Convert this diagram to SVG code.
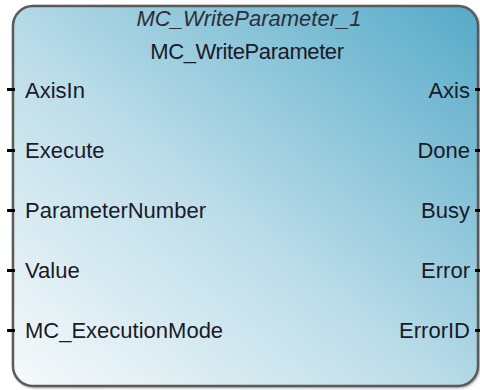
<svg xmlns="http://www.w3.org/2000/svg" width="480" height="390" viewBox="0 0 480 390">
<defs>
<linearGradient id="bg" x1="0" y1="1" x2="1" y2="0">
<stop offset="0" stop-color="#f7fafb"/>
<stop offset="0.45" stop-color="#bcdde9"/>
<stop offset="1" stop-color="#55aac8"/>
</linearGradient>
<filter id="sh" x="-5%" y="-5%" width="110%" height="110%">
<feDropShadow dx="1" dy="1" stdDeviation="1" flood-color="#000" flood-opacity="0.35"/>
</filter>
<style>
text{font-family:"Liberation Sans",Arial,sans-serif;font-size:22px;fill:#1a1a28}
.r{text-anchor:end}
.t{text-anchor:middle;font-style:italic;fill:#2e2e38}
.c{text-anchor:middle;letter-spacing:-0.4px}
.pin{fill:#000}
</style>
</defs>
<rect width="480" height="390" fill="#ffffff"/>
<g id="block">
<rect x="13" y="6" width="465" height="380" rx="20" ry="20" fill="url(#bg)" stroke="#5a5a5a" stroke-width="2.5" filter="url(#sh)"/>
<text class="t" x="249" y="26">MC_WriteParameter_1</text>
<text class="c" x="247" y="59">MC_WriteParameter</text>
</g>
<g id="inputs">
<g id="in-AxisIn"><rect class="pin" x="7" y="88" width="8" height="3"/><text x="25" y="98">AxisIn</text></g>
<g id="in-Execute"><rect class="pin" x="7" y="149" width="8" height="3"/><text x="25" y="158">Execute</text></g>
<g id="in-ParameterNumber"><rect class="pin" x="7" y="209" width="8" height="3"/><text x="25" y="218">ParameterNumber</text></g>
<g id="in-Value"><rect class="pin" x="7" y="269" width="8" height="3"/><text x="25" y="278">Value</text></g>
<g id="in-MC_ExecutionMode"><rect class="pin" x="7" y="329" width="8" height="3"/><text x="25" y="338">MC_ExecutionMode</text></g>
</g>
<g id="outputs">
<g id="out-Axis"><rect class="pin" x="475" y="88" width="5" height="3"/><text class="r" x="470" y="98">Axis</text></g>
<g id="out-Done"><rect class="pin" x="475" y="149" width="5" height="3"/><text class="r" x="470" y="158">Done</text></g>
<g id="out-Busy"><rect class="pin" x="475" y="209" width="5" height="3"/><text class="r" x="470" y="218">Busy</text></g>
<g id="out-Error"><rect class="pin" x="475" y="269" width="5" height="3"/><text class="r" x="470" y="278">Error</text></g>
<g id="out-ErrorID"><rect class="pin" x="475" y="329" width="5" height="3"/><text class="r" x="470" y="338">ErrorID</text></g>
</g>
<g id="connectors"/>
</svg>
